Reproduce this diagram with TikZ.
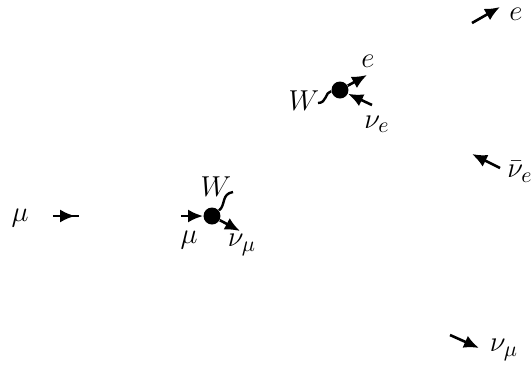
\documentclass[tikz,border=0pt]{standalone}
\usetikzlibrary{arrows.meta,decorations.markings}
\tikzset{
  fd vertex/.style={circle, fill=black, inner sep=0pt, minimum size=8.5pt},
  fd arrow/.style={-{Latex[length=7.5pt,width=6.5pt]}, line width=1.3pt},
  fd mid arrow/.style={line width=1.3pt,
    decoration={markings, mark=at position 0.85 with {\arrow{Latex[length=7.5pt,width=6.5pt]}}},
    postaction=decorate},
  fd boson/.style={line width=1.2pt},
  fd label/.style={inner sep=0pt, font=\fontsize{15.5}{18}\selectfont}
}
\begin{document}
\begin{tikzpicture}[x=0.5pt,y=-0.5pt]
\useasboundingbox (0,0) rectangle (532,366);
% free particles
\node[fd label] (mu0) at (20,218) {$\mu$};
\coordinate (mu0a) at (53,216);
\coordinate (mu0b) at (79,216);
\draw[fd mid arrow] (mu0a) -- (mu0b);
\coordinate (ea) at (472,23);
\coordinate (eb) at (500,7);
\draw[fd arrow] (ea) -- (eb);
\node[fd label] (eout) at (516,14) {$e$};
\coordinate (nba) at (500,168);
\coordinate (nbb) at (472,154);
\draw[fd arrow] (nba) -- (nbb);
\node[fd label] (nbout) at (520,172) {$\bar\nu_e$};
\coordinate (nma) at (450,335);
\coordinate (nmb) at (479,348);
\draw[fd arrow] (nma) -- (nmb);
\node[fd label] (nmout) at (504,350) {$\nu_\mu$};
% muon decay vertex
\node[fd vertex] (v1) at (212,216) {};
\coordinate (v1in) at (181,216);
\coordinate (v1out) at (240,231);
\coordinate (v1w) at (233,192);
\draw[fd arrow] (v1in) -- (v1);
\draw[fd arrow] (v1) -- (v1out);
\draw[fd boson] (v1) .. controls (226,205) and (221,194) .. (v1w);
\node[fd label] (v1W) at (216,187) {$W$};
\node[fd label] (v1mu) at (189,240) {$\mu$};
\node[fd label] (v1nu) at (242,245) {$\nu_\mu$};
% W decay vertex
\node[fd vertex] (v2) at (340,90) {};
\coordinate (v2w) at (318,103);
\coordinate (v2out) at (367,75);
\coordinate (v2in) at (372,105);
\draw[fd boson] (v2w) .. controls (327,103) and (325,92) .. (v2);
\draw[fd arrow] (v2) -- (v2out);
\draw[fd arrow] (v2in) -- (v2);
\node[fd label] (v2W) at (304,101) {$W$};
\node[fd label] (v2e) at (368,61) {$e$};
\node[fd label] (v2nu) at (377,124) {$\nu_e$};
\end{tikzpicture}
\end{document}
